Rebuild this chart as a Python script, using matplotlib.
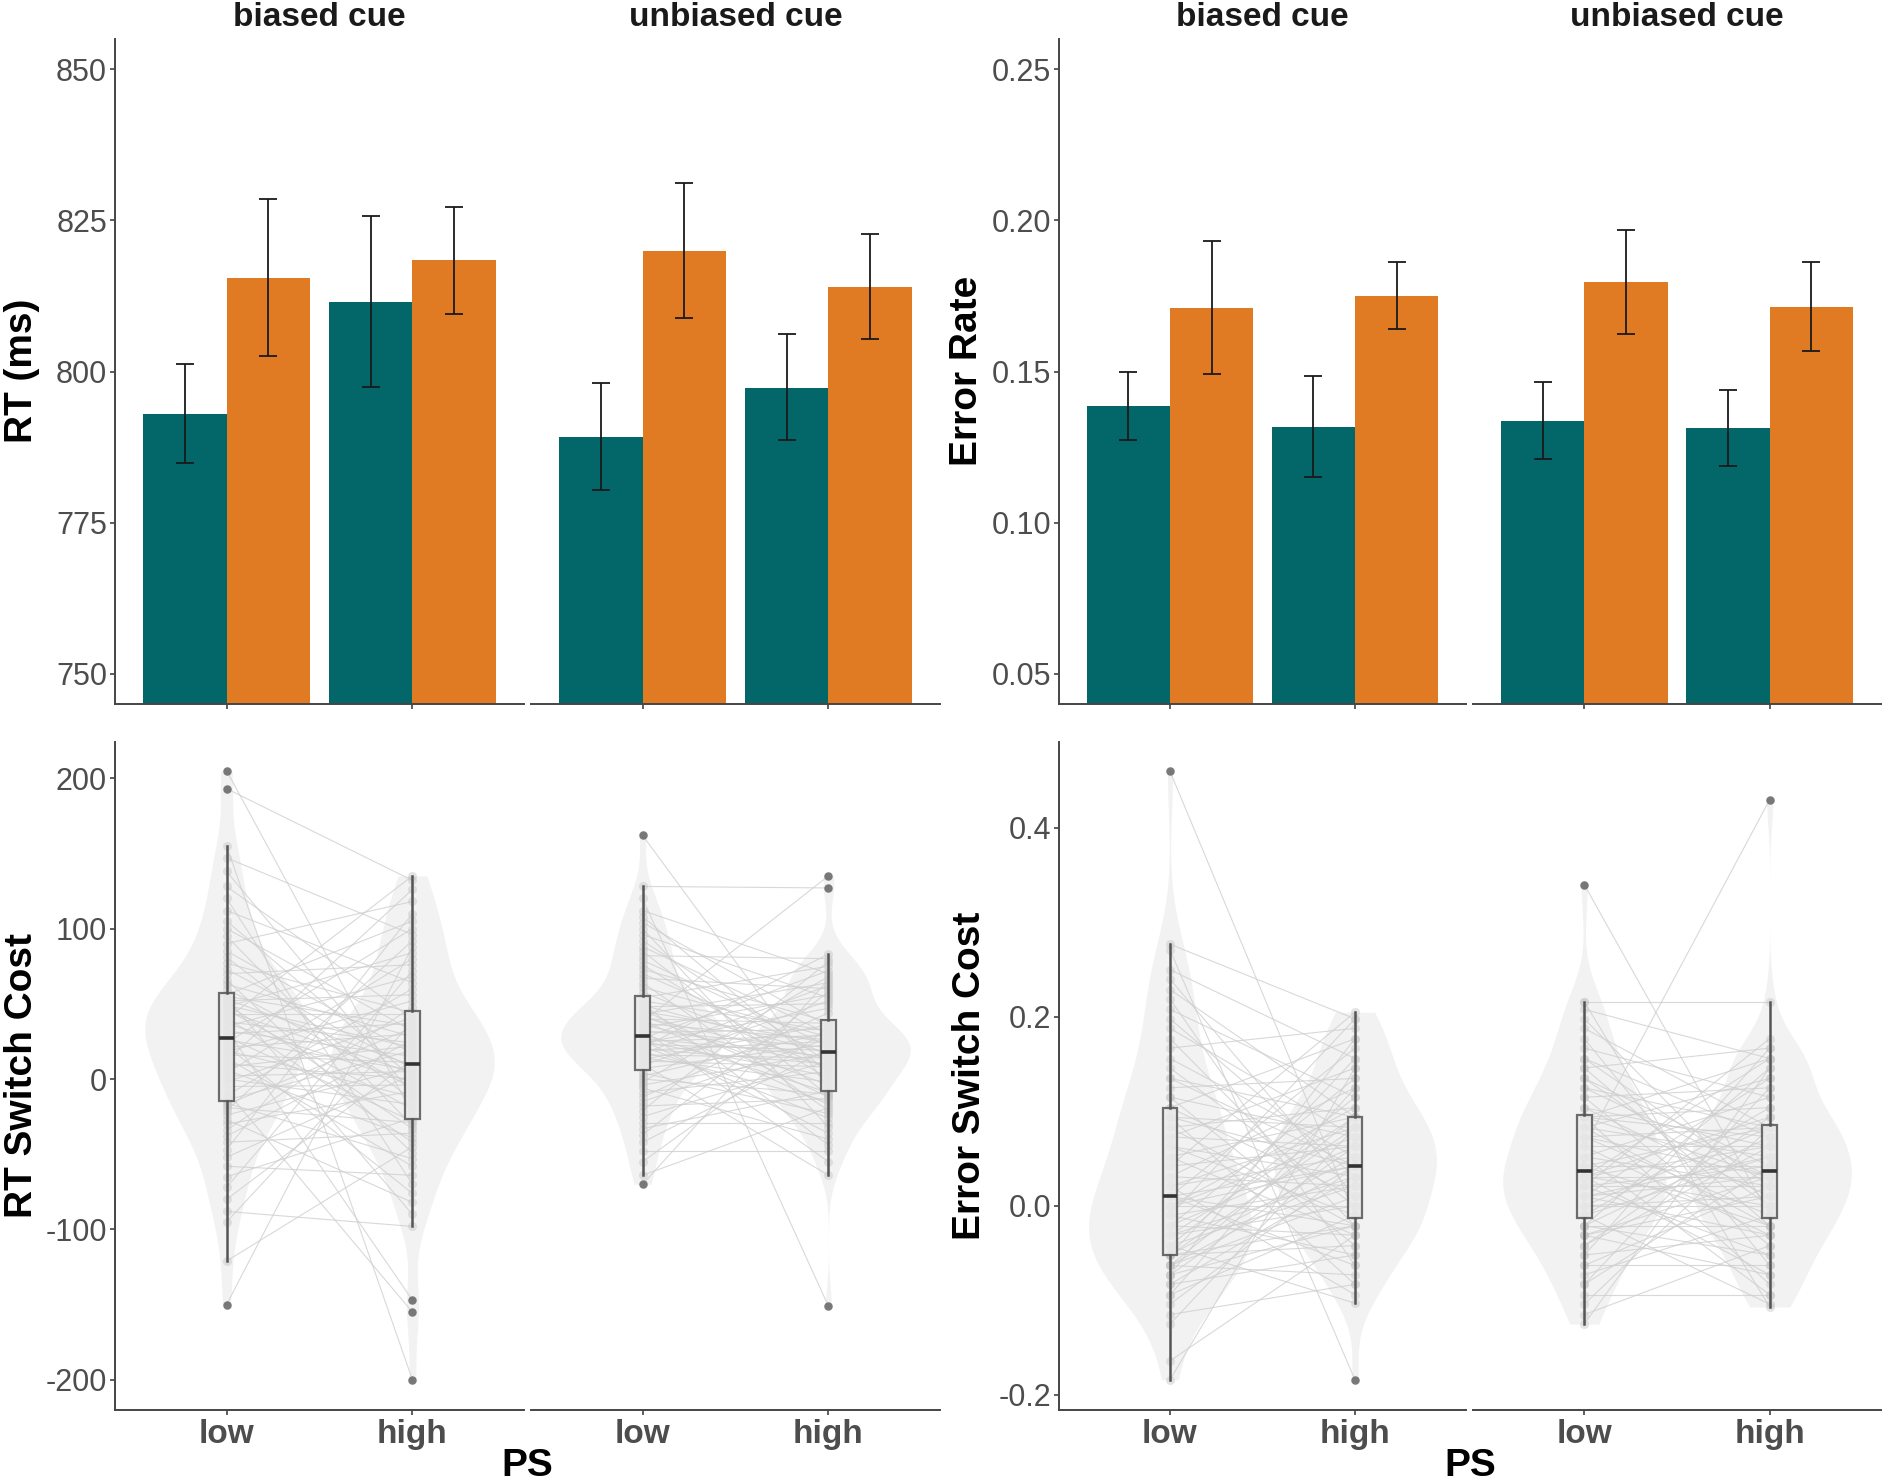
import numpy as np
import matplotlib.pyplot as plt

plt.rcParams['font.family'] = ['Liberation Sans', 'DejaVu Sans']
plt.rcParams['axes.unicode_minus'] = False

# facets / x categories
cues = ['biased cue', 'unbiased cue']
ps_levels = ['low', 'high']

# bar means and error bar limits, order: biased-low, biased-high, unbiased-low, unbiased-high
rt_repeat = [793.0, 811.5, 789.2, 797.3]
rt_repeat_lo = [784.9, 797.5, 780.4, 788.6]
rt_repeat_hi = [801.2, 825.8, 798.1, 806.2]
rt_switch = [815.4, 818.4, 819.9, 814.0]
rt_switch_lo = [802.5, 809.5, 808.8, 805.4]
rt_switch_hi = [828.6, 827.2, 831.1, 822.8]

er_repeat = [0.1386, 0.1317, 0.1335, 0.1312]
er_repeat_lo = [0.1274, 0.1151, 0.1211, 0.1186]
er_repeat_hi = [0.1498, 0.1485, 0.1464, 0.1440]
er_switch = [0.1711, 0.1750, 0.1795, 0.1714]
er_switch_lo = [0.1492, 0.1640, 0.1625, 0.1569]
er_switch_hi = [0.1933, 0.1861, 0.1968, 0.1861]

# switch costs per participant (low PS values listed in participant order,
# high PS values listed sorted and matched to participants through pair_rank)
rt_biased_low = [-150, -121, -95, -88, -80, -72, -65, -58, -52, -47, -42, -38, -34, -30, -27, -24, -21, -19, -17, -16,
                 -14, -11, -8, -5, -2, 0, 2, 4, 6, 8, 10, 12, 14, 16, 18, 19, 21, 22, 24, 26,
                 28, 30, 32, 33, 35, 37, 38, 40, 41, 43, 45, 46, 48, 49, 50, 52, 53, 54, 55, 56,
                 60, 63, 66, 70, 73, 77, 81, 85, 90, 95, 100, 105, 112, 120, 128, 138, 147, 155, 193, 205]
rt_biased_high = [-200, -155, -147, -98, -90, -82, -76, -70, -64, -58, -53, -49, -45, -42, -39, -36, -33, -31, -29, -28,
                  -26, -23, -20, -17, -14, -12, -10, -8, -6, -4, -2, 0, 1, 3, 4, 5, 6, 7, 8, 9,
                  11, 13, 15, 17, 19, 21, 22, 24, 26, 28, 30, 32, 34, 35, 37, 38, 40, 41, 43, 44,
                  48, 52, 56, 60, 64, 68, 72, 76, 80, 84, 88, 92, 96, 100, 105, 110, 118, 126, 132, 135]
rt_unbiased_low = [-70, -64, -55, -48, -42, -37, -33, -29, -25, -21, -18, -15, -12, -9, -6, -4, -2, 0, 2, 4,
                   7, 9, 10, 12, 13, 14, 16, 17, 18, 19, 20, 21, 22, 23, 24, 25, 25, 26, 27, 27,
                   30, 31, 32, 33, 34, 36, 37, 38, 39, 40, 41, 42, 43, 45, 46, 48, 49, 50, 52, 54,
                   58, 61, 64, 67, 70, 73, 76, 79, 82, 85, 88, 92, 96, 100, 104, 108, 112, 120, 128, 162]
rt_unbiased_high = [-151, -64, -55, -48, -44, -40, -36, -32, -29, -26, -23, -21, -19, -17, -15, -13, -12, -11, -10, -9,
                    -8, -6, -4, -2, 0, 2, 4, 5, 7, 8, 9, 10, 11, 12, 13, 14, 15, 16, 17, 17,
                    19, 20, 21, 22, 23, 24, 25, 26, 27, 28, 29, 30, 31, 32, 33, 34, 35, 36, 37, 38,
                    44, 47, 50, 52, 54, 56, 58, 60, 62, 64, 66, 68, 70, 72, 75, 78, 80, 83, 127, 135]

er_biased_low = [-0.184, -0.164, -0.125, -0.115, -0.104, -0.094, -0.094, -0.083, -0.083, -0.073,
                 -0.073, -0.073, -0.063, -0.063, -0.063, -0.063, -0.052, -0.052, -0.052, -0.052,
                 -0.052, -0.042, -0.042, -0.042, -0.031, -0.031, -0.031, -0.021, -0.021, -0.021,
                 -0.010, -0.010, -0.010, 0.000, 0.000, 0.000, 0.000, 0.010, 0.010, 0.010,
                 0.010, 0.021, 0.021, 0.021, 0.031, 0.031, 0.042, 0.042, 0.052, 0.052,
                 0.063, 0.063, 0.073, 0.073, 0.083, 0.083, 0.094, 0.094, 0.094, 0.104,
                 0.104, 0.115, 0.115, 0.125, 0.135, 0.135, 0.146, 0.156, 0.167, 0.177,
                 0.188, 0.198, 0.208, 0.219, 0.229, 0.240, 0.250, 0.271, 0.277, 0.460]
er_biased_high = [-0.184, -0.103, -0.094, -0.083, -0.083, -0.073, -0.063, -0.063, -0.052, -0.052,
                  -0.042, -0.042, -0.031, -0.031, -0.031, -0.021, -0.021, -0.021, -0.021, -0.021,
                  -0.010, -0.010, -0.010, 0.000, 0.000, 0.000, 0.010, 0.010, 0.010, 0.021,
                  0.021, 0.021, 0.031, 0.031, 0.031, 0.031, 0.042, 0.042, 0.042, 0.042,
                  0.042, 0.042, 0.052, 0.052, 0.052, 0.063, 0.063, 0.063, 0.063, 0.073,
                  0.073, 0.073, 0.083, 0.083, 0.083, 0.083, 0.094, 0.094, 0.094, 0.094,
                  0.094, 0.104, 0.104, 0.115, 0.115, 0.125, 0.125, 0.135, 0.135, 0.146,
                  0.146, 0.156, 0.156, 0.167, 0.177, 0.177, 0.188, 0.198, 0.198, 0.205]
er_unbiased_low = [-0.125, -0.115, -0.104, -0.094, -0.083, -0.083, -0.073, -0.063, -0.063, -0.052,
                   -0.052, -0.042, -0.042, -0.031, -0.031, -0.031, -0.021, -0.021, -0.021, -0.021,
                   -0.010, -0.010, -0.010, 0.000, 0.000, 0.000, 0.010, 0.010, 0.010, 0.010,
                   0.021, 0.021, 0.021, 0.021, 0.031, 0.031, 0.031, 0.031, 0.031, 0.031,
                   0.042, 0.042, 0.042, 0.052, 0.052, 0.052, 0.063, 0.063, 0.063, 0.073,
                   0.073, 0.073, 0.083, 0.083, 0.083, 0.094, 0.094, 0.094, 0.094, 0.094,
                   0.104, 0.104, 0.115, 0.115, 0.125, 0.125, 0.135, 0.135, 0.146, 0.146,
                   0.156, 0.156, 0.167, 0.177, 0.188, 0.198, 0.208, 0.216, 0.216, 0.340]
er_unbiased_high = [-0.107, -0.104, -0.094, -0.094, -0.083, -0.073, -0.073, -0.063, -0.063, -0.052,
                    -0.052, -0.042, -0.042, -0.031, -0.031, -0.031, -0.021, -0.021, -0.021, -0.021,
                    -0.010, -0.010, -0.010, 0.000, 0.000, 0.000, 0.000, 0.010, 0.010, 0.010,
                    0.021, 0.021, 0.021, 0.021, 0.031, 0.031, 0.031, 0.031, 0.031, 0.031,
                    0.042, 0.042, 0.042, 0.042, 0.052, 0.052, 0.052, 0.063, 0.063, 0.063,
                    0.063, 0.073, 0.073, 0.073, 0.083, 0.083, 0.083, 0.083, 0.083, 0.083,
                    0.094, 0.094, 0.104, 0.104, 0.115, 0.115, 0.125, 0.125, 0.135, 0.135,
                    0.146, 0.146, 0.156, 0.156, 0.156, 0.167, 0.167, 0.177, 0.216, 0.430]

# rank of each participant's high-PS value (participant i -> high list index)
pair_rank = [70, 12, 55, 3, 41, 66, 20, 8, 33, 75,
             15, 48, 60, 27, 5, 38, 71, 18, 52, 10,
             44, 63, 1, 29, 57, 23, 35, 68, 14, 46,
             31, 77, 9, 40, 61, 25, 50, 6, 73, 36,
             19, 54, 42, 2, 65, 30, 47, 79, 13, 58,
             34, 22, 69, 45, 16, 62, 39, 4, 53, 74,
             28, 49, 11, 67, 37, 59, 24, 43, 76, 17,
             51, 32, 64, 7, 56, 26, 72, 0, 78, 21]

TEAL = '#03676a'
ORANGE = '#e07a23'
AXIS_COL = '#454545'
TICK_COL = '#4d4d4d'

W, H = 1889, 1484
fig = plt.figure(figsize=(W / 100, H / 100), dpi=100)


def add_ax(x0, x1, y0, y1):
    return fig.add_axes([x0 / W, 1 - y1 / H, (x1 - x0) / W, (y1 - y0) / H])


def style(ax, first):
    for s in ['top', 'right']:
        ax.spines[s].set_visible(False)
    for s in ['bottom', 'left']:
        ax.spines[s].set_color(AXIS_COL)
        ax.spines[s].set_linewidth(1.4)
    ax.tick_params(length=3.8, width=1.1, color='#333333', labelcolor=TICK_COL,
                   labelsize=22, pad=2)
    ax.set_xlim(0.4, 2.6)
    ax.set_xticks([1, 2])
    ax.patch.set_alpha(0)
    if not first:
        ax.spines['left'].set_visible(False)
        ax.tick_params(axis='y', left=False, labelleft=False)


def bar_panel(xs, mean_a, lo_a, hi_a, mean_b, lo_b, hi_b, ylim, yticks, fmt):
    for k in range(2):
        ax = add_ax(xs[k][0], xs[k][1], 39, 704)
        style(ax, k == 0)
        pos = np.array([1, 2])
        sl = slice(2 * k, 2 * k + 2)
        for means, lo, hi, off, col in [(mean_a, lo_a, hi_a, -0.225, TEAL),
                                        (mean_b, lo_b, hi_b, 0.225, ORANGE)]:
            m = np.array(means[sl])
            ax.bar(pos + off, m, width=0.45, color=col, zorder=2)
            err = [m - np.array(lo[sl]), np.array(hi[sl]) - m]
            ax.errorbar(pos + off, m, yerr=err, fmt='none', ecolor='#1a1a1a',
                        elinewidth=1.3, capsize=6.5, capthick=1.3, zorder=3)
        ax.set_ylim(*ylim)
        ax.set_yticks(yticks)
        ax.set_yticklabels([fmt.format(t) for t in yticks])
        ax.set_xticklabels([])
        ax.text(0.5, 1 + 21 / 665, cues[k], transform=ax.transAxes, ha='center',
                va='center', fontsize=24, fontweight='bold', color='#1a1a1a')


def kde(vals):
    v = np.asarray(vals, float)
    n = len(v)
    q75, q25 = np.percentile(v, [75, 25])
    bw = 0.9 * min(v.std(ddof=1), (q75 - q25) / 1.34) * n ** -0.2
    y = np.linspace(v.min(), v.max(), 512)
    d = np.exp(-0.5 * ((y[:, None] - v[None, :]) / bw) ** 2).sum(1) / (n * bw * np.sqrt(2 * np.pi))
    return y, d


def cost_panel(xs, groups, ylim, yticks, fmt):
    for k in range(2):
        ax = add_ax(xs[k][0], xs[k][1], 742, 1410)
        style(ax, k == 0)
        low = np.array(groups[k][0], float)
        high_sorted = np.array(groups[k][1], float)
        high = high_sorted[pair_rank]
        for p, vals in zip([1, 2], [low, high]):
            yy, dd = kde(vals)
            w = 0.44 * dd / dd.max()
            ax.fill_betweenx(yy, p - w, p + w, color='#f2f2f2', lw=0, zorder=1)
        for a, b in zip(low, high):
            ax.plot([1, 2], [a, b], color='#cfcfcf', lw=0.8, alpha=0.8, zorder=2)
        ax.plot(np.ones(len(low)), low, 'o', ms=6.5, color='#c4c4c4', alpha=0.45,
                mec='none', zorder=3)
        ax.plot(np.full(len(high), 2), high, 'o', ms=6.5, color='#c4c4c4', alpha=0.45,
                mec='none', zorder=3)
        ax.boxplot([low, high], positions=[1, 2], widths=0.08, whis=1.5,
                   patch_artist=True, showcaps=False, manage_ticks=False,
                   boxprops=dict(facecolor='#ebebeb', edgecolor='#555555', lw=1.6, alpha=0.85),
                   whiskerprops=dict(color='#555555', lw=1.8),
                   medianprops=dict(color='#333333', lw=2.6),
                   flierprops=dict(marker='o', markerfacecolor='#666666',
                                   markeredgecolor='none', markersize=6, alpha=0.85),
                   zorder=4)
        ax.set_ylim(*ylim)
        ax.set_yticks(yticks)
        ax.set_yticklabels([fmt.format(t) for t in yticks])
        ax.set_xticklabels(ps_levels, fontsize=24, fontweight='bold')
        ax.tick_params(axis='x', pad=3)


left_x = [(115, 524), (531, 940)]
right_x = [(1059, 1466), (1473, 1881)]

bar_panel(left_x, rt_repeat, rt_repeat_lo, rt_repeat_hi, rt_switch, rt_switch_lo,
          rt_switch_hi, (745, 855), [750, 775, 800, 825, 850], '{:.0f}')
bar_panel(right_x, er_repeat, er_repeat_lo, er_repeat_hi, er_switch, er_switch_lo,
          er_switch_hi, (0.04, 0.26), [0.05, 0.10, 0.15, 0.20, 0.25], '{:.2f}')

cost_panel(left_x, [(rt_biased_low, rt_biased_high), (rt_unbiased_low, rt_unbiased_high)],
           (-220, 224), [-200, -100, 0, 100, 200], '{:.0f}')
cost_panel(right_x, [(er_biased_low, er_biased_high), (er_unbiased_low, er_unbiased_high)],
           (-0.216, 0.491), [-0.2, 0.0, 0.2, 0.4], '{:.1f}')

# axis titles
lab = dict(fontsize=28, fontweight='bold', color='black', ha='center', va='center')
fig.text(22 / W, 1 - 371 / H, 'RT (ms)', rotation=90, **lab)
fig.text(967 / W, 1 - 371 / H, 'Error Rate', rotation=90, **lab)
fig.text(22 / W, 1 - 1076 / H, 'RT Switch Cost', rotation=90, **lab)
fig.text(970 / W, 1 - 1076 / H, 'Error Switch Cost', rotation=90, **lab)
fig.text(527 / W, 1 - 1466 / H, 'PS', **lab)
fig.text(1470 / W, 1 - 1466 / H, 'PS', **lab)

fig.savefig('out.png', dpi=100, facecolor='white')
